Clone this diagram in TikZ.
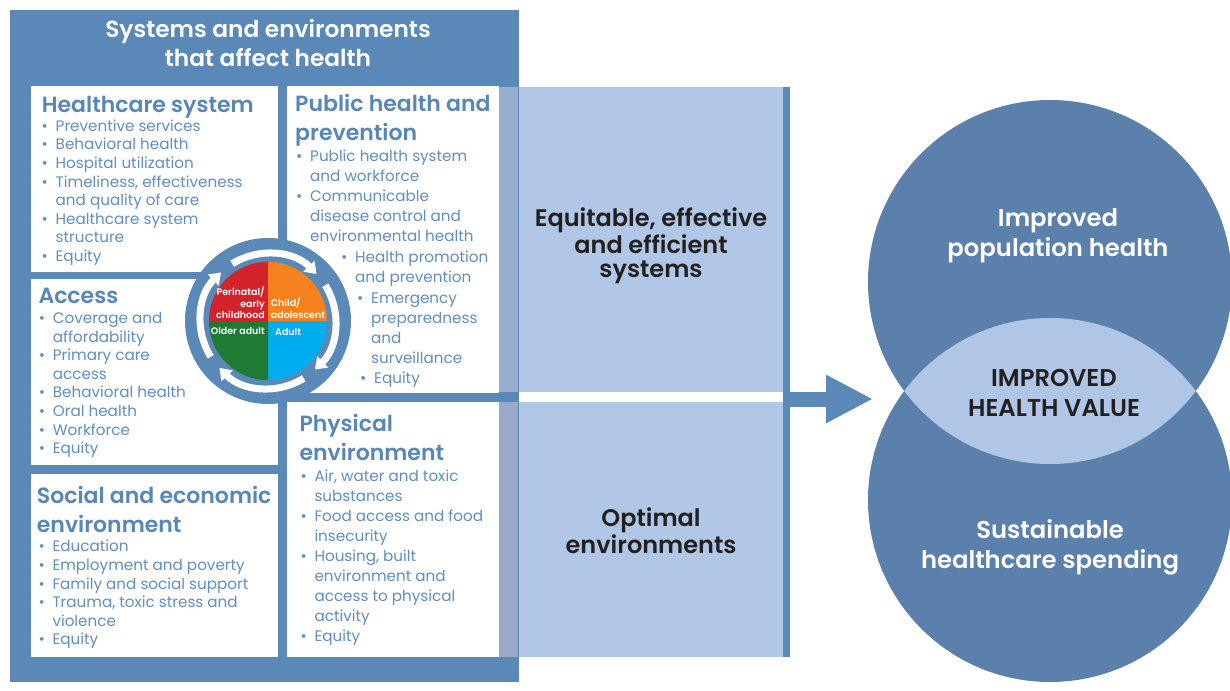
\documentclass[tikz,border=0pt]{standalone}
\usepackage{fontspec}
\setmainfont{Poppins}[BoldFont={Poppins SemiBold}]
\usetikzlibrary{arrows.meta}

\definecolor{frameblue}{RGB}{90,137,183}
\definecolor{headblue}{RGB}{88,134,181}
\definecolor{itemblue}{RGB}{98,142,192}
\definecolor{paleblue}{RGB}{176,199,231}
\definecolor{stripup}{RGB}{148,175,207}
\definecolor{stripdown}{RGB}{154,169,200}
\definecolor{circblue}{RGB}{91,128,172}
\definecolor{lensblue}{RGB}{176,198,230}
\definecolor{inkblack}{RGB}{35,31,32}
\definecolor{pered}{RGB}{210,35,42}
\definecolor{peorange}{RGB}{245,130,31}
\definecolor{peblue}{RGB}{0,174,239}
\definecolor{pegreen}{RGB}{30,123,52}

\newcommand{\bitem}{\strut\makebox[14pt][l]{\textbullet}}
\newcommand{\bcont}{\strut\hspace*{14pt}}

\begin{document}
\begin{tikzpicture}[x=1pt,y=1pt,yscale=-1,
	panel/.style={fill=white,anchor=north west,inner sep=0pt},
	headtext/.style={anchor=north west,inner sep=0pt,align=left,text=headblue,font=\fontsize{22}{28.5}\selectfont\bfseries},
	itemtext/.style={anchor=north west,inner sep=0pt,align=left,text=itemblue,font=\fontsize{15.2}{18.6}\selectfont},
	itemwide/.style={itemtext,font=\fontsize{15.2}{20}\selectfont},
	outcometext/.style={anchor=north,inner sep=0pt,align=center,text=inkblack,font=\fontsize{24}{24}\selectfont\bfseries},
	goaltext/.style={anchor=north,inner sep=0pt,align=center,font=\fontsize{24.3}{30}\selectfont\bfseries},
	slicetext/.style={inner sep=0pt,text=white,font=\fontsize{9.5}{11.5}\selectfont\bfseries},
	ringarrow/.style={draw=white,line width=7pt,-{Triangle[width=15pt,length=11pt]}},
	bigarrow/.style={draw=frameblue,line width=15pt,-{Triangle[width=45pt,length=47pt]}}]
	\useasboundingbox (0,0) rectangle (1230,690);
	\fill[frameblue] (10,10) rectangle (519,682);
	\node[anchor=north,inner sep=0pt,align=center,text=white,font=\fontsize{23.3}{28.5}\selectfont\bfseries] (title) at (268,17.5) {\strut Systems and environments\\\strut that affect health};
	\node[panel,minimum width=247,minimum height=186] (hcbox) at (31,86) {};
	\node[panel,minimum width=247,minimum height=186] (accbox) at (31,279) {};
	\node[panel,minimum width=247,minimum height=183] (socbox) at (31,474) {};
	\node[panel,minimum width=212,minimum height=307] (phbox) at (287,86) {};
	\node[panel,minimum width=212,minimum height=255] (physbox) at (287,402) {};
	\fill[stripup] (499,87) rectangle (518,392);
	\fill[stripdown] (499,402) rectangle (518,657);
	\node[panel,fill=paleblue,minimum width=264,minimum height=305] (sysbox) at (519,87) {};
	\node[panel,fill=paleblue,minimum width=264,minimum height=255] (envbox) at (519,402) {};
	\node[panel,fill=frameblue,minimum width=7,minimum height=570] (rbar) at (783,87) {};

	\node[circle,fill=frameblue,inner sep=0pt,minimum size=166] (ring) at (268,321) {};
	\foreach \a in {-122,-32,58,148}
		\draw[ringarrow] ([shift={(\a:67.5)}]ring.center) arc[start angle=\a,end angle=\a+78,radius=67.5];
	\node[circle,inner sep=0pt,minimum size=118] (pie) at (ring.center) {};
	\fill[pered] (pie.center) -- (pie.north) arc[start angle=-90,end angle=-180,radius=59] -- cycle;
	\fill[peorange] (pie.center) -- (pie.north) arc[start angle=-90,end angle=0,radius=59] -- cycle;
	\fill[peblue] (pie.center) -- (pie.east) arc[start angle=0,end angle=90,radius=59] -- cycle;
	\fill[pegreen] (pie.center) -- (pie.south) arc[start angle=90,end angle=180,radius=59] -- cycle;
	\node[slicetext,anchor=north east,align=right] (perilbl) at (265,286.3) {\strut Perinatal/\\\strut early\\\strut childhood};
	\node[slicetext,anchor=north west,align=left] (childlbl) at (270.7,297.5) {\strut Child/\\\strut adolescent};
	\node[slicetext,anchor=base east] (olderlbl) at (265,334.7) {Older adult};
	\node[slicetext,anchor=base west] (adultlbl) at (275,335.3) {Adult};

	\node[headtext] (hchead) at (41.7,92) {\strut Healthcare system};
	\node[itemtext] (hclist) at (41.5,118) {\bitem Preventive services\\\bitem Behavioral health\\\bitem Hospital utilization\\\bitem Timeliness, effectiveness\\\bcont and quality of care\\\bitem Healthcare system\\\bcont structure\\\bitem Equity};
	\node[headtext] (acchead) at (38.3,283.4) {\strut Access};
	\node[itemtext] (acclist) at (38.7,310.3) {\bitem Coverage and\\\bcont affordability\\\bitem Primary care\\\bcont access\\\bitem Behavioral health\\\bitem Oral health\\\bitem Workforce\\\bitem Equity};
	\node[headtext] (sochead) at (36.7,483.4) {\strut Social and economic\\\strut environment};
	\node[itemtext] (soclist) at (38.3,538.7) {\bitem Education\\\bitem Employment and poverty\\\bitem Family and social support\\\bitem Trauma, toxic stress and\\\bcont violence\\\bitem Equity};
	\node[headtext] (phhead) at (295,91.8) {\strut Public health and\\\strut prevention};
	\node[itemwide] (phlista) at (296,147.7) {\bitem Public health system\\\bcont and workforce\\\bitem Communicable\\\bcont disease control and\\\bcont environmental health};
	\node[itemwide] (phlistb) at (341,248.7) {\bitem Health promotion\\\bcont and prevention};
	\node[itemwide] (phlistc) at (357,289.3) {\bitem Emergency\\\bcont preparedness\\\bcont and\\\bcont surveillance};
	\node[itemwide] (phlistd) at (360,369.3) {\bitem Equity};
	\node[headtext] (physhead) at (299.3,411.8) {\strut Physical\\\strut environment};
	\node[itemwide] (physlist) at (300.3,467.7) {\bitem Air, water and toxic\\\bcont substances\\\bitem Food access and food\\\bcont insecurity\\\bitem Housing, built\\\bcont environment and\\\bcont access to physical\\\bcont activity\\\bitem Equity};

	\node[outcometext] (systxt) at (651,207.2) {\strut Equitable, effective\\\strut and efficient\\\strut systems};
	\node[outcometext] (envtxt) at (651,507.2) {\strut Optimal\\\strut environments};

	\node[circle,fill=circblue,inner sep=0pt,minimum size=364] (healthc) at (1050,282) {};
	\node[circle,fill=circblue,inner sep=0pt,minimum size=364] (spendc) at (1050,500) {};
	\begin{scope}
		\clip (healthc.center) circle[radius=182];
		\fill[lensblue] (spendc.center) circle[radius=182];
	\end{scope}
	\node[goaltext,text=white] (healthtxt) at (1058,205) {\strut Improved\\\strut population health};
	\node[goaltext,text=inkblack] (valuetxt) at (1054,365.7) {\strut IMPROVED\\\strut HEALTH VALUE};
	\node[goaltext,text=white] (spendtxt) at (1050,517) {\strut Sustainable\\\strut healthcare spending};

	\coordinate (arrowtip) at (873,399);
	\draw[bigarrow] (rbar.east |- arrowtip) -- (arrowtip);
\end{tikzpicture}
\end{document}
